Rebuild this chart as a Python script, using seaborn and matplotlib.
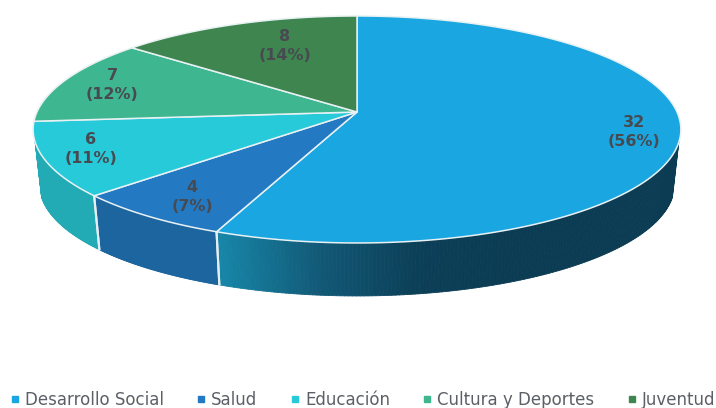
import numpy as np
import matplotlib
matplotlib.use('Agg')
import matplotlib.pyplot as plt
from matplotlib.collections import PolyCollection
from matplotlib.lines import Line2D
from matplotlib.patches import Polygon
import seaborn as sns

categories = ['Desarrollo Social', 'Salud', 'Educación', 'Cultura y Deportes', 'Juventud']
values = [32, 4, 6, 7, 8]
percents = [56, 7, 11, 12, 14]

top_colors = ['#1aa7e1', '#2479c3', '#27cad8', '#3eb68f', '#3f8550']
side_colors = [None, '#1c659f', '#22abb5', '#2f9c78', '#306b40']
label_pos = [(634, 132), (192, 197), (91, 149), (112, 85), (285, 46)]

# projected disc, pixel units
CX, CY = 357, 112
RX, RY = 320, 110.8
TILT = 0.154
SIDE_SCALE = 0.98
SIDE_DROP = 55.6


def project(theta, scale=1.0, drop=0.0):
    x = np.cos(np.radians(theta))
    y = np.sin(np.radians(theta))
    w = 1 + TILT * y
    return CX + scale * RX * x / w, CY + drop - scale * RY * y / w


sns.set_theme(style='white')
plt.rcParams['font.family'] = ['DejaVu Sans']
fig = plt.figure(figsize=(7.16, 4.08), dpi=100)
ax = fig.add_axes([0, 0, 1, 1])

# let pie work out the slice angles, then redraw them in perspective
wedges, _ = ax.pie(values, startangle=90, counterclock=False)
angles = [(w.theta1, w.theta2) for w in wedges]
for w in wedges:
    w.remove()

ax.set_aspect('auto')
ax.set_xlim(0, 716)
ax.set_ylim(408, 0)
ax.axis('off')

# side wall first, only the front part shows
blue_side = sns.blend_palette(['#1786a8', '#125a78', '#0c4058', '#0b3c53'], as_cmap=True)
for i, (t1, t2) in enumerate(angles):
    t1, t2 = t1 % 360, t2 % 360
    if t2 <= t1:
        t2 += 360
    lo, hi = max(t1, 195), min(t2, 345)
    if hi <= lo:
        continue
    th = np.linspace(lo, hi, 160)
    xt, yt = project(th)
    xb, yb = project(th, SIDE_SCALE, SIDE_DROP)
    quads = [[(xt[k], yt[k]), (xt[k + 1], yt[k + 1]), (xb[k + 1], yb[k + 1]), (xb[k], yb[k])]
             for k in range(len(th) - 1)]
    if i == 0:
        cols = [blue_side(np.clip((q[0][0] - 218) / 290, 0, 1)) for q in quads]
    else:
        cols = side_colors[i]
    ax.add_collection(PolyCollection(quads, facecolors=cols, edgecolors=cols, linewidths=0.6, zorder=2))
    # white seams between the slices, front ones only
    for t in (t1, t2):
        if 195 < t % 360 < 345:
            ax.plot(*zip(project(t), project(t, SIDE_SCALE, SIDE_DROP)), color='#e6eef2', lw=1.5, zorder=3)

# top face
for i, (t1, t2) in enumerate(angles):
    th = np.linspace(t1, t2, 200)
    xs, ys = project(th)
    pts = np.column_stack([np.r_[CX, xs], np.r_[CY, ys]])
    ax.add_patch(Polygon(pts, closed=True, facecolor=top_colors[i], edgecolor='#e8f1f3', lw=1.1,
                         joinstyle='round', zorder=4))
    ax.text(*label_pos[i], f'{values[i]}\n({percents[i]}%)', ha='center', va='center',
            fontsize=11.5, fontweight='bold', color='#474a50', linespacing=1.4, zorder=5)

handles = [Line2D([], [], linestyle='', marker='s', markersize=4, color=c) for c in top_colors]
ax.legend(handles, categories, loc='lower center', bbox_to_anchor=(0.507, -0.004), ncol=5, frameon=False,
          fontsize=12, labelcolor='#5c6066', handlelength=0.5, handletextpad=0.35, columnspacing=2.0,
          borderpad=0.05, borderaxespad=0)

fig.savefig('out.png', dpi=100, facecolor='white')
